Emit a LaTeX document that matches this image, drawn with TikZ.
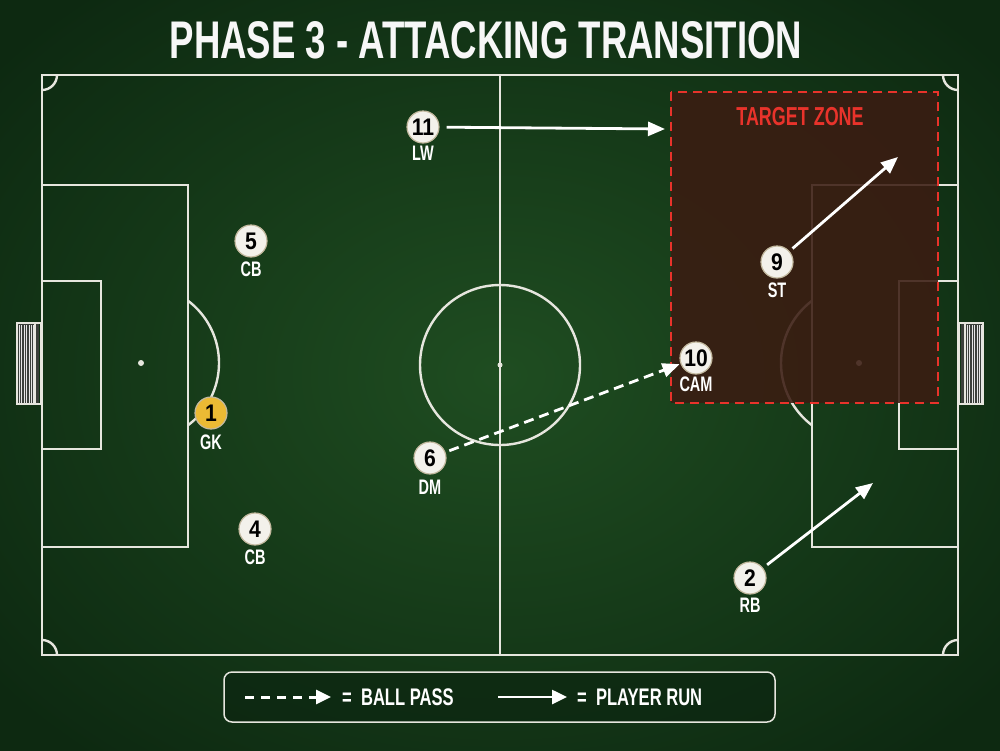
\documentclass[tikz,border=0pt]{standalone}
\usepackage{fontspec}
\setmainfont{Liberation Sans}
\newfontfamily\cond[FakeStretch=0.69]{Liberation Sans}
\newfontfamily\numf[FakeStretch=0.88]{Liberation Sans}
\usetikzlibrary{arrows.meta}
\definecolor{bgIn}{HTML}{1F4D21}
\definecolor{bgOut}{HTML}{0D2911}
\definecolor{lineW}{HTML}{E6E6DE}
\definecolor{plFill}{HTML}{F3F1EB}
\definecolor{plEdge}{HTML}{C2B89E}
\definecolor{gkFill}{HTML}{EBBA34}
\definecolor{zoneRed}{HTML}{E8332B}
\definecolor{zoneFill}{HTML}{3B1C12}
\definecolor{legFill}{HTML}{0B2410}
\definecolor{netBg}{HTML}{3A3F3A}
\tikzset{
  fieldline/.style={draw=lineW, line width=2.4pt},
  player/.style={circle, draw=plEdge, line width=1.2pt, fill=plFill, minimum size=32pt, inner sep=0pt, text=black, font=\numf\bfseries\fontsize{24}{24}\selectfont},
  keeper/.style={player, fill=gkFill},
  plabel/.style={text=white, font=\cond\bfseries\fontsize{21}{21}\selectfont, inner sep=0pt},
  run/.style={draw=white, line width=2.8pt, -{Triangle[length=17pt,width=14pt]}},
  pass/.style={draw=white, line width=2.8pt, dash pattern=on 10pt off 6pt, -{Triangle[length=17pt,width=14pt]}},
  legtext/.style={text=white, font=\cond\bfseries\fontsize{24}{24}\selectfont, inner sep=0pt, anchor=west},
}
\begin{document}
\begin{tikzpicture}[x=1pt,y=-1pt]
\useasboundingbox (0,0) rectangle (1000,750);
% background
\shade[inner color=bgIn, outer color=bgOut] (-150,-120) rectangle (1150,870);
% title
\node[text=white!94!gray, font=\cond\bfseries\fontsize{53}{53}\selectfont, inner sep=0pt] (title) at (486,40) {PHASE 3 - ATTACKING TRANSITION};
% pitch
\draw[fieldline] (42,75) rectangle (958,655);
\draw[fieldline] (500,75) -- (500,655);
\draw[fieldline] (500,365) circle[radius=80];
\fill[lineW] (500,365) circle[radius=2.5];
% left side
\draw[fieldline] (42,185) rectangle (188,547);
\draw[fieldline] (42,281) rectangle (101,449);
\fill[lineW] (141,363) circle[radius=3];
\begin{scope}
\clip (188,200) rectangle (260,530);
\draw[fieldline] (141,363) circle[radius=78];
\end{scope}
% right side
\draw[fieldline] (812,185) rectangle (958,547);
\draw[fieldline] (899,281) rectangle (958,449);
\fill[lineW] (859,363) circle[radius=3];
\begin{scope}
\clip (740,200) rectangle (812,530);
\draw[fieldline] (859,363) circle[radius=78];
\end{scope}
% corner arcs
\begin{scope}
\clip (42,75) rectangle (958,655);
\foreach \cx/\cy in {42/75,958/75,42/655,958/655}{
  \draw[fieldline] (\cx,\cy) circle[radius=15];
}
\end{scope}
% goals
\fill[netBg] (18,324) rectangle (39,403);
\draw[white!80!gray, line width=0.45pt, step=2.4] (18.5,324.5) grid (34,403);
\draw[lineW, line width=2pt] (17,323) rectangle (41,404);
\draw[lineW, line width=1.5pt] (35,323) -- (35,404);
\fill[netBg] (961,324) rectangle (982,403);
\draw[white!80!gray, line width=0.45pt, step=2.4] (966,324.5) grid (982,403);
\draw[lineW, line width=2pt] (959,323) rectangle (983,404);
\draw[lineW, line width=1.5pt] (965,323) -- (965,404);
% target zone
\fill[zoneFill, fill opacity=0.88] (671,92) rectangle (938,403);
\draw[zoneRed, line width=2.4pt, dash pattern=on 9pt off 6pt] (671,92) rectangle (938,403);
\node[text=zoneRed, font=\cond\bfseries\fontsize{26}{26}\selectfont, inner sep=0pt] (zonelabel) at (800,117) {TARGET ZONE};
% players
\node[player] (p11) at (423,127) {11};
\node[plabel] (l11) at (423,153) {LW};
\node[player] (p5) at (251,241) {5};
\node[plabel] (l5) at (251,269) {CB};
\node[keeper] (p1) at (211,413) {1};
\node[plabel] (l1) at (211,442) {GK};
\node[player] (p4) at (255,529) {4};
\node[plabel] (l4) at (255,557) {CB};
\node[player] (p6) at (430,458) {6};
\node[plabel] (l6) at (430,487) {DM};
\node[player] (p10) at (696,358) {10};
\node[plabel] (l10) at (696,384) {CAM};
\node[player] (p9) at (777,262) {9};
\node[plabel] (l9) at (777,290) {ST};
\node[player] (p2) at (750,578) {2};
\node[plabel] (l2) at (750,605) {RB};
% movement
\coordinate (lwEnd) at (665,129);
\coordinate (stEnd) at (898,157);
\coordinate (rbEnd) at (873,483);
\draw[run, shorten <=7pt] (p11) -- (lwEnd);
\draw[run, shorten <=4pt] (p9) -- (stEnd);
\draw[run, shorten <=5pt] (p2) -- (rbEnd);
\draw[pass, shorten <=4pt, shorten >=1pt] (p6) -- (p10);
% legend
\node[draw=lineW, line width=1.5pt, rounded corners=8pt, fill=legFill, fill opacity=0.6, minimum width=551pt, minimum height=50pt] (legend) at (499.5,697) {};
\coordinate (lpA) at (245,697);
\coordinate (lpB) at (331,697);
\coordinate (lrA) at (498,697);
\coordinate (lrB) at (567,697);
\draw[draw=white, line width=3pt, dash pattern=on 9pt off 7pt, -{Triangle[length=15pt,width=14pt]}] (lpA) -- (lpB);
\draw[draw=white, line width=2.6pt, -{Triangle[length=15pt,width=14pt]}] (lrA) -- (lrB);
\node[legtext] (legpass) at (342,697) {=\ \ BALL PASS};
\node[legtext] (legrun) at (577,697) {=\ \ PLAYER RUN};
\end{tikzpicture}
\end{document}
